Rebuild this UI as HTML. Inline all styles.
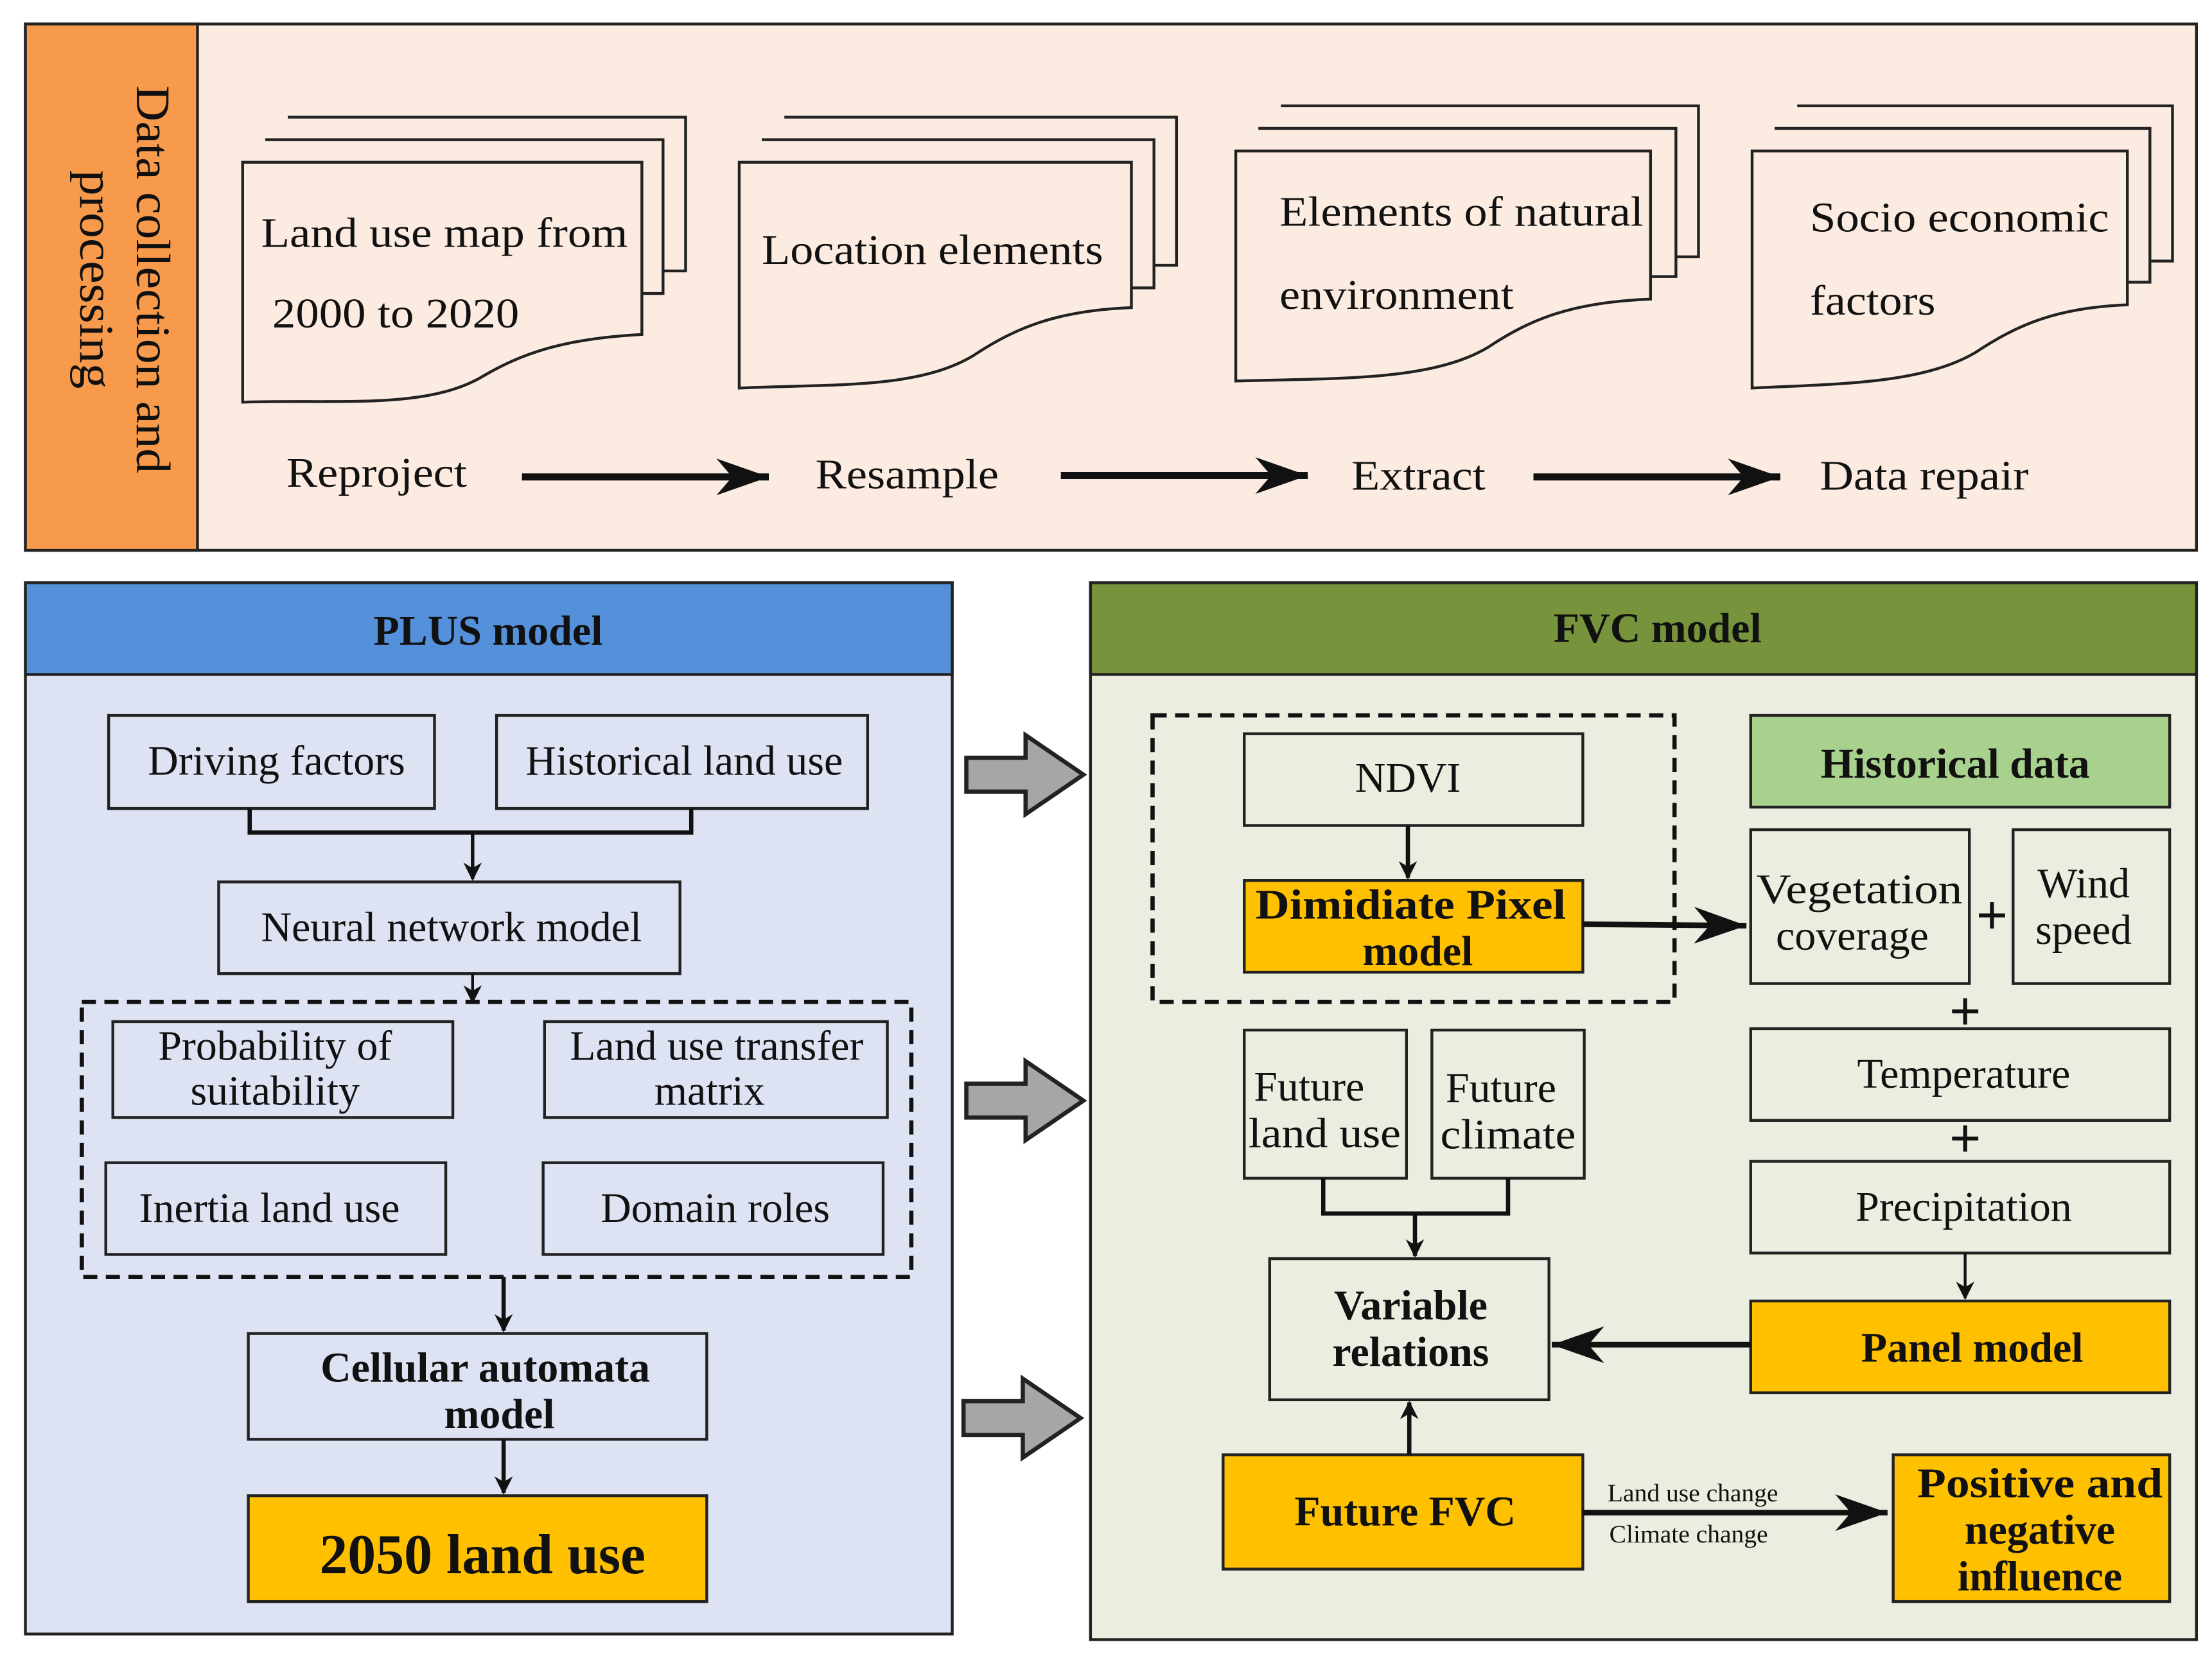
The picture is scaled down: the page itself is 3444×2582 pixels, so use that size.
<!DOCTYPE html>
<html><head><meta charset="utf-8"><style>
html,body{margin:0;padding:0;background:#fff}
svg{display:block}
text{font-family:"Liberation Serif","Times New Roman",serif;fill:#111}
.b{font-weight:bold}
</style></head><body>
<svg width="3444" height="2582" viewBox="0 0 1568 1175" preserveAspectRatio="none" xmlns="http://www.w3.org/2000/svg">
<defs>
<marker id="a" viewBox="0 0 10 10" refX="9" refY="5" markerWidth="13" markerHeight="13" orient="auto" markerUnits="userSpaceOnUse"><path d="M0,0 L10,5 L0,10 L3,5 z" fill="#111"/></marker>
<marker id="big" viewBox="0 0 20 14" refX="20" refY="7" markerWidth="50" markerHeight="26" orient="auto" markerUnits="userSpaceOnUse"><path d="M0,0 L20,7 L0,14 L6,7 z" fill="#111"/></marker>
<marker id="mid" viewBox="0 0 20 14" refX="20" refY="7" markerWidth="40" markerHeight="26" orient="auto" markerUnits="userSpaceOnUse"><path d="M0,0 L20,7 L0,14 L6,7 z" fill="#111"/></marker>
<g id="gar"><path d="M0,-12 H42 V-28 L83,0 L42,28 V12 H0 Z" fill="#a6a6a6" stroke="#222" stroke-width="3"/></g>
</defs>

<!-- top panel -->
<rect x="18" y="17" width="1539" height="373" fill="#fcebe0" stroke="#222" stroke-width="2"/>
<rect x="18" y="17" width="122" height="373" fill="#f79a4c" stroke="#222" stroke-width="2"/>
<g transform="translate(79,198) rotate(90)">
<text x="0" y="-18" font-size="34" text-anchor="middle" textLength="275" lengthAdjust="spacingAndGlyphs">Data collection and</text>
<text x="0" y="22" font-size="34" text-anchor="middle" textLength="155" lengthAdjust="spacingAndGlyphs">processing</text>
</g>

<g fill="#fcebe0" stroke="#222" stroke-width="2">
<path d="M204,83 H486 V192 H470"/><path d="M188,99 H470 V208 H455"/>
<path d="M172,115 H455 V237 C400,240 370,250 340,268 C300,290 240,283 172,285 Z"/>
<path d="M556,83 H834 V188 H818"/><path d="M540,99 H818 V204 H802"/>
<path d="M524,115 H802 V218 C750,220 720,232 690,252 C650,276 590,272 524,275 Z"/>
<path d="M908,75 H1204 V182 H1188"/><path d="M892,91 H1188 V196 H1170"/>
<path d="M876,107 H1170 V212 C1115,214 1085,226 1055,246 C1015,270 950,268 876,270 Z"/>
<path d="M1274,75 H1540 V185 H1524"/><path d="M1258,91 H1524 V200 H1508"/>
<path d="M1242,107 H1508 V216 C1458,218 1430,230 1400,250 C1362,272 1305,272 1242,275 Z"/>
</g>
<text x="185" y="175" font-size="30" textLength="260" lengthAdjust="spacingAndGlyphs">Land use map from</text>
<text x="193" y="232" font-size="30" textLength="175" lengthAdjust="spacingAndGlyphs">2000 to 2020</text>
<text x="540" y="187" font-size="30" textLength="242" lengthAdjust="spacingAndGlyphs">Location elements</text>
<text x="907" y="160" font-size="30" textLength="258" lengthAdjust="spacingAndGlyphs">Elements of natural</text>
<text x="907" y="219" font-size="30" textLength="166" lengthAdjust="spacingAndGlyphs">environment</text>
<text x="1283" y="164" font-size="30" textLength="212" lengthAdjust="spacingAndGlyphs">Socio economic</text>
<text x="1283" y="223" font-size="30" textLength="89" lengthAdjust="spacingAndGlyphs">factors</text>

<text x="203" y="345" font-size="30" textLength="128" lengthAdjust="spacingAndGlyphs">Reproject</text>
<text x="578" y="346" font-size="30" textLength="130" lengthAdjust="spacingAndGlyphs">Resample</text>
<text x="958" y="347" font-size="30" textLength="95" lengthAdjust="spacingAndGlyphs">Extract</text>
<text x="1290" y="347" font-size="30" textLength="148" lengthAdjust="spacingAndGlyphs">Data repair</text>
<g stroke="#111" stroke-width="5">
<line x1="370" y1="338" x2="545" y2="338" marker-end="url(#big)"/>
<line x1="752" y1="337" x2="927" y2="337" marker-end="url(#big)"/>
<line x1="1087" y1="338" x2="1262" y2="338" marker-end="url(#big)"/>
</g>

<!-- PLUS panel -->
<rect x="18" y="413" width="657" height="745" fill="#dde3f3" stroke="#222" stroke-width="2"/>
<rect x="18" y="413" width="657" height="65" fill="#5590db" stroke="#222" stroke-width="2"/>
<text x="346" y="457" font-size="30" class="b" text-anchor="middle">PLUS model</text>
<g fill="#dde3f3" stroke="#222" stroke-width="2">
<rect x="77" y="507" width="231" height="66"/>
<rect x="352" y="507" width="263" height="66"/>
<rect x="155" y="625" width="327" height="65"/>
<rect x="80" y="724" width="241" height="68"/>
<rect x="386" y="724" width="243" height="68"/>
<rect x="75" y="824" width="241" height="65"/>
<rect x="385" y="824" width="241" height="65"/>
<rect x="176" y="945" width="325" height="75"/>
</g>
<rect x="176" y="1060" width="325" height="75" fill="#ffc000" stroke="#222" stroke-width="2"/>
<rect x="58" y="710" width="588" height="195" fill="none" stroke="#111" stroke-width="3" stroke-dasharray="10,6"/>
<g font-size="30" text-anchor="middle">
<text x="196" y="549">Driving factors</text>
<text x="485" y="549">Historical land use</text>
<text x="320" y="667">Neural network model</text>
<text x="195" y="751">Probability of</text>
<text x="195" y="783">suitability</text>
<text x="508" y="751">Land use transfer</text>
<text x="503" y="783">matrix</text>
<text x="191" y="866">Inertia land use</text>
<text x="507" y="866">Domain roles</text>
<text x="344" y="979" class="b">Cellular automata</text>
<text x="354" y="1012" class="b">model</text>
<text x="342" y="1115" font-size="40" class="b">2050 land use</text>
</g>
<g stroke="#111" stroke-width="3" fill="none">
<polyline points="177,573 177,590 490,590 490,573"/>
<line x1="335" y1="590" x2="335" y2="623" marker-end="url(#a)" stroke-width="2.5"/>
<line x1="335" y1="690" x2="335" y2="710" marker-end="url(#a)" stroke-width="2"/>
<line x1="357" y1="905" x2="357" y2="943" marker-end="url(#a)"/>
<line x1="357" y1="1020" x2="357" y2="1058" marker-end="url(#a)"/>
</g>

<use href="#gar" x="685" y="549"/>
<use href="#gar" x="685" y="780"/>
<use href="#gar" x="683" y="1005"/>

<!-- FVC panel -->
<rect x="773" y="413" width="784" height="749" fill="#ebede0" stroke="#222" stroke-width="2"/>
<rect x="773" y="413" width="784" height="65" fill="#77933c" stroke="#222" stroke-width="2"/>
<text x="1175" y="455" font-size="30" class="b" text-anchor="middle">FVC model</text>
<rect x="817" y="507" width="370" height="203" fill="none" stroke="#111" stroke-width="3" stroke-dasharray="10,6"/>
<g fill="#ebede0" stroke="#222" stroke-width="2">
<rect x="882" y="520" width="240" height="65"/>
<rect x="1241" y="588" width="155" height="109"/>
<rect x="1427" y="588" width="111" height="109"/>
<rect x="1241" y="729" width="297" height="65"/>
<rect x="1241" y="823" width="297" height="65"/>
<rect x="882" y="730" width="115" height="105"/>
<rect x="1015" y="730" width="108" height="105"/>
<rect x="900" y="892" width="198" height="100"/>
</g>
<g fill="#ffc000" stroke="#222" stroke-width="2">
<rect x="882" y="624" width="240" height="65"/>
<rect x="1241" y="922" width="297" height="65"/>
<rect x="867" y="1031" width="255" height="81"/>
<rect x="1342" y="1031" width="196" height="104"/>
</g>
<rect x="1241" y="507" width="297" height="65" fill="#a9d18e" stroke="#222" stroke-width="2"/>
<g font-size="30" text-anchor="middle">
<text x="998" y="561">NDVI</text>
<text x="1000" y="651" class="b" textLength="220" lengthAdjust="spacingAndGlyphs">Dimidiate Pixel</text>
<text x="1005" y="684" class="b">model</text>
<text x="1386" y="551" class="b">Historical data</text>
<text x="1318" y="640" textLength="146" lengthAdjust="spacingAndGlyphs">Vegetation</text>
<text x="1313" y="673">coverage</text>
<text x="1477" y="636">Wind</text>
<text x="1477" y="669">speed</text>
<text x="1392" y="771">Temperature</text>
<text x="1392" y="865">Precipitation</text>
<text x="1398" y="965" class="b">Panel model</text>
<text x="928" y="780">Future</text>
<text x="939" y="813" textLength="108" lengthAdjust="spacingAndGlyphs">land use</text>
<text x="1064" y="781">Future</text>
<text x="1069" y="814" textLength="96" lengthAdjust="spacingAndGlyphs">climate</text>
<text x="1000" y="935" class="b">Variable</text>
<text x="1000" y="968" class="b">relations</text>
<text x="996" y="1081" class="b">Future FVC</text>
<text x="1446" y="1061" class="b" textLength="174" lengthAdjust="spacingAndGlyphs">Positive and</text>
<text x="1446" y="1094" class="b">negative</text>
<text x="1446" y="1127" class="b">influence</text>
<text x="1200" y="1064" font-size="18">Land use change</text>
<text x="1197" y="1093" font-size="18">Climate change</text>
</g>
<g font-size="40" class="b" text-anchor="middle">
<text x="1412" y="662">+</text>
<text x="1393" y="730">+</text>
<text x="1393" y="820">+</text>
</g>
<g stroke="#111" stroke-width="3" fill="none">
<line x1="998" y1="585" x2="998" y2="622" marker-end="url(#a)"/>
<line x1="1122" y1="655" x2="1238" y2="656" marker-end="url(#mid)" stroke-width="4"/>
<polyline points="938,835 938,860 1069,860 1069,835"/>
<line x1="1003" y1="860" x2="1003" y2="890" marker-end="url(#a)"/>
<line x1="1393" y1="888" x2="1393" y2="920" marker-end="url(#a)" stroke-width="2"/>
<line x1="1241" y1="953" x2="1100" y2="953" marker-end="url(#mid)" stroke-width="4"/>
<line x1="999" y1="1031" x2="999" y2="994" marker-end="url(#a)"/>
<line x1="1122" y1="1072" x2="1338" y2="1072" marker-end="url(#mid)" stroke-width="4"/>
</g>
</svg>
</body></html>
